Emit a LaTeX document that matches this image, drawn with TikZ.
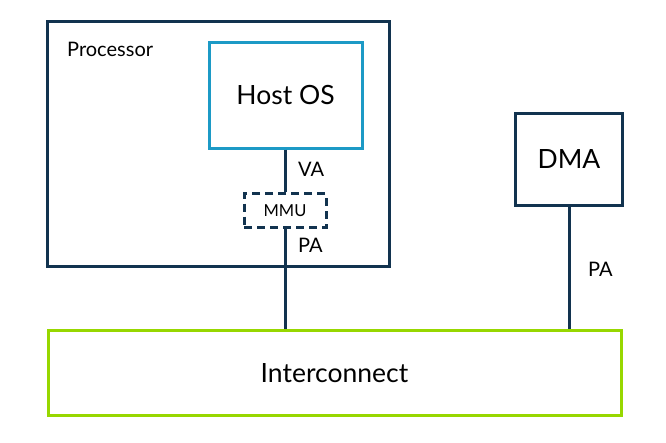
\documentclass[tikz,border=0pt]{standalone}
\usepackage{fontspec}
\setmainfont{Lato}
\usetikzlibrary{positioning}
\definecolor{navy}{HTML}{12334F}
\definecolor{hostblue}{HTML}{1C9AC6}
\definecolor{icgreen}{HTML}{97D700}
\tikzset{
  unit/.style={draw=navy, line width=3pt, minimum width=#1, inner sep=0pt},
  bus/.style={navy, line width=3pt},
  lbl/.style={font=\fontsize{20}{22}\selectfont, inner sep=0pt, anchor=base west}
}

\begin{document}
\begin{tikzpicture}[x=1pt,y=-1pt]
    \useasboundingbox (0,0) rectangle (666,442);
    %
    \node[unit=342pt, minimum height=245pt] (proc) at (218,143.5) {};
    \node[lbl] (proclbl) at (67,56) {Processor};

    \node[unit=153pt, minimum height=106pt, draw=hostblue, font=\fontsize{26.5}{30}\selectfont] (host) at (285.5,95) {Host OS};
    \node[unit=82pt, minimum height=34pt, dashed, dash pattern=on 8pt off 5pt, font=\fontsize{16.5}{18}\selectfont] (mmu) at (285,210.5) {MMU};

    \node[unit=107pt, minimum height=92pt, font=\fontsize{26.5}{30}\selectfont] (dma) at (569,159.5) {DMA};

    \node[unit=573pt, minimum height=85pt, draw=icgreen, font=\fontsize{26.5}{30}\selectfont] (ic) at (334.5,373) {Interconnect};
    %
    \draw[bus] (host.south -| mmu.north) -- (mmu.north);
    \draw[bus] (mmu.south) -- (mmu.south |- ic.north);
    \draw[bus] (dma.south) -- (dma.south |- ic.north);
    %
    \node[lbl] (va) at (298,176) {VA};
    \node[lbl] (pa) at (298,252) {PA};
    \node[lbl] (dmapa) at (588,276) {PA};
\end{tikzpicture}
\end{document}
